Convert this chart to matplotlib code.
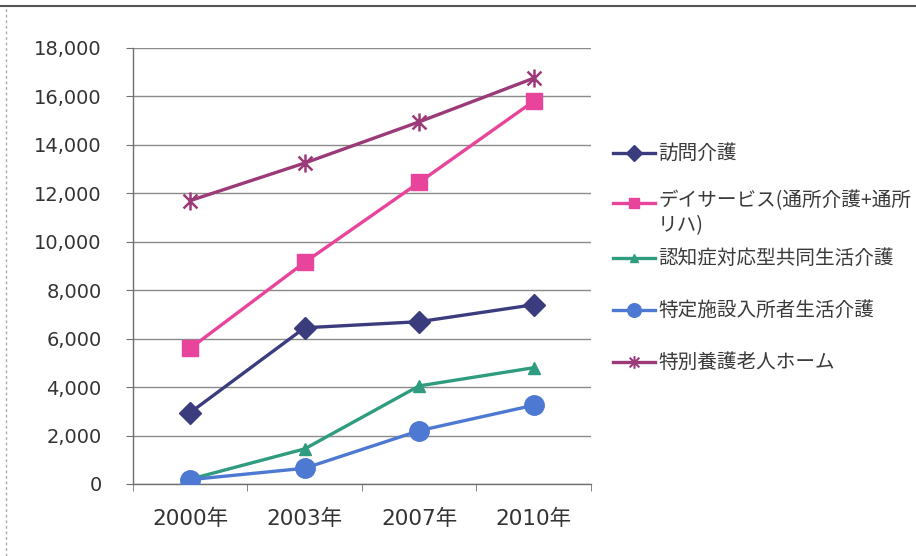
import numpy as np
import matplotlib
matplotlib.use("Agg")
import matplotlib.pyplot as plt
from matplotlib.path import Path
from matplotlib.lines import Line2D
from matplotlib.ticker import FuncFormatter

plt.rcParams['font.family'] = ['DejaVu Sans', 'Noto Sans CJK JP']
LEGEND_FONT = ['Noto Sans CJK JP', 'DejaVu Sans']

# ====== DATA ======
years = ["2000年", "2003年", "2007年", "2010年"]
houmon = [2950, 6450, 6700, 7400]            # 訪問介護
day_service = [5600, 9150, 12450, 15800]     # デイサービス
group_home = [200, 1450, 4050, 4800]         # 認知症対応型共同生活介護
tokutei = [180, 650, 2200, 3250]             # 特定施設入所者生活介護
tokuyou = [11700, 13250, 14950, 16750]       # 特別養護老人ホーム

labels = [
    "訪問介護",
    "デイサービス(通所介護+通所\nリハ)",
    "認知症対応型共同生活介護",
    "特定施設入所者生活介護",
    "特別養護老人ホーム",
]
colors = ["#3b3c7e", "#e8449b", "#2f9c80", "#4d79d2", "#9b3a78"]

# asterisk marker: X plus a vertical bar
star = Path([(-1, -1), (1, 1), (-1, 1), (1, -1), (0, -1.3), (0, 1.3)],
            [Path.MOVETO, Path.LINETO, Path.MOVETO, Path.LINETO, Path.MOVETO, Path.LINETO])

series = [houmon, day_service, group_home, tokutei, tokuyou]
markers = ["D", "s", "^", "o", star]
msizes = [11, 11, 8, 14, 13]

fig = plt.figure(figsize=(9.16, 5.56), dpi=100)
ax = fig.add_axes([0.1452, 0.1295, 0.4998, 0.7842])

x = np.arange(len(years))
for vals, c, m, ms in zip(series, colors, markers, msizes):
    kw = dict(markerfacecolor=c, markeredgecolor=c)
    if m is star:
        kw = dict(markerfacecolor="none", markeredgecolor=c, markeredgewidth=1.8)
    ax.plot(x, vals, color=c, lw=2.4, marker=m, ms=ms, zorder=3, **kw)

ax.set_xlim(-0.5, 3.5)
ax.set_ylim(0, 18000)
ax.set_yticks(np.arange(0, 18001, 2000))
ax.yaxis.set_major_formatter(FuncFormatter(lambda v, p: f"{int(v):,}"))
ax.set_xticks(x)
ax.set_xticklabels(years)
ax.set_xticks(np.arange(-0.5, 3.6, 1), minor=True)

ax.grid(axis="y", color="#8a8a8a", lw=1)
ax.set_axisbelow(True)
for s in ["top", "right"]:
    ax.spines[s].set_visible(False)
for s in ["left", "bottom"]:
    ax.spines[s].set_color("#707070")
    ax.spines[s].set_linewidth(1)

ax.tick_params(axis="y", direction="out", length=5, color="#707070",
               labelsize=14, labelcolor="#333333", pad=17.5)
ax.tick_params(axis="x", which="major", length=0, labelsize=15.5,
               labelcolor="#333333", pad=18)
ax.tick_params(axis="x", which="minor", direction="out", length=5, color="#707070")

# legend on the right, drawn in figure coordinates
W, H = 916, 556
leg_y = [153, 203, 258, 310, 362]
for lab, c, m, ms, yy in zip(labels, colors, markers, msizes, leg_y):
    fy = 1 - yy / H
    kw = dict(markerfacecolor=c, markeredgecolor=c)
    if m is star:
        kw = dict(markerfacecolor="none", markeredgecolor=c, markeredgewidth=1.5)
    fig.add_artist(Line2D([613 / W, 655 / W], [fy, fy], color=c, lw=2.4,
                          transform=fig.transFigure))
    fig.add_artist(Line2D([634 / W], [fy], marker=m, ms=ms * 0.7, color=c,
                          transform=fig.transFigure, **kw))
    if "\n" in lab:
        fig.text(658 / W, fy + 13 / H, lab, fontsize=14.1, color="#3a3a3a",
                 va="top", linespacing=1.25, family=LEGEND_FONT)
    else:
        fig.text(658 / W, fy, lab, fontsize=14.1, color="#3a3a3a", va="center",
                 family=LEGEND_FONT)

# outer frame lines
fig.add_artist(Line2D([0, 1], [1 - 6 / H, 1 - 6 / H], color="#555555", lw=1.5,
                      transform=fig.transFigure))
fig.add_artist(Line2D([6 / W, 6 / W], [0, 1 - 6 / H], color="#aaaaaa", lw=1,
                      ls=(0, (2, 2)), transform=fig.transFigure))

fig.savefig("out.png", dpi=100)
